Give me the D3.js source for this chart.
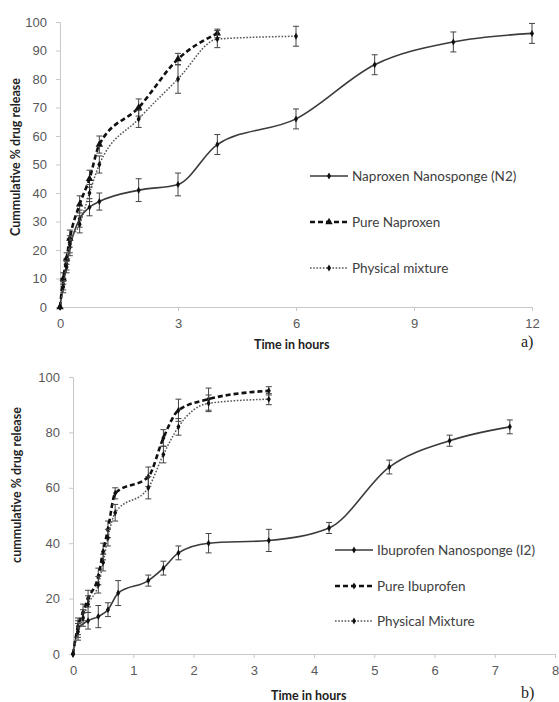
<!DOCTYPE html>
<html>
<head>
<meta charset="utf-8">
<script src="https://cdn.jsdelivr.net/npm/d3@7"></script>
<style>
  body { margin: 0; background: #fff; }
  svg { display: block; font-family: Lato, "Open Sans", sans-serif; }
  .tick text { fill: #595959; font-size: 13px; }
  .domain, .tick line { stroke: #c8c8c8; }
</style>
</head>
<body>
<div id="chart"></div>
<script>
// ---- panel a) naproxen ----
var napTimeN2 = [0, 0.083, 0.167, 0.25, 0.5, 0.75, 1, 2, 3, 4, 6, 8, 10, 12];
var napN2 = [0, 8, 15, 21, 31, 35, 37, 41, 43, 57, 66, 85, 93, 96];
var napN2Err = [0, 2, 2, 3, 3, 3, 3, 4, 4, 3.5, 3.5, 3.5, 3.5, 3.5];

var napTimePure = [0, 0.083, 0.167, 0.25, 0.5, 0.75, 1, 2, 3, 4];
var napPure = [0, 10, 17, 24, 36, 45, 57, 70, 87, 96];
var napPureErr = [0, 2, 2, 3, 3, 3, 3, 3, 2, 1.5];

var napTimeMix = [0, 0.083, 0.167, 0.25, 0.5, 0.75, 1, 2, 3, 4, 6];
var napMix = [0, 7, 14, 22, 29, 40, 50, 66, 80, 94, 95];
var napMixErr = [0, 2, 2, 3, 3, 3, 3, 3, 5, 3, 3.5];

var napXTicks = [0, 3, 6, 9, 12];
var napYTicks = [0, 10, 20, 30, 40, 50, 60, 70, 80, 90, 100];
var napNames = ["Naproxen Nanosponge (N2)", "Pure Naproxen", "Physical mixture"];

// ---- panel b) ibuprofen ----
var ibuTimeI2 = [0, 0.083, 0.25, 0.42, 0.58, 0.75, 1.25, 1.5, 1.75, 2.25, 3.25, 4.25, 5.25, 6.25, 7.25];
var ibuI2 = [0, 9, 12, 13.5, 16, 22, 26.5, 31, 36.5, 40, 41, 45.5, 67.5, 77, 82];
var ibuI2Err = [0, 3, 3, 4, 2.5, 4.5, 2, 2.5, 2.5, 3.5, 4, 2, 2.5, 2, 2.5];

var ibuTimeFast = [0, 0.083, 0.167, 0.25, 0.42, 0.5, 0.58, 0.7, 1.25, 1.5, 1.75, 2.25, 3.25];
var ibuPure = [0, 10, 15, 20, 28, 37, 45, 58, 64, 78, 88, 92, 95];
var ibuPureErr = [0, 3, 3, 3, 3, 3, 3, 2, 3.5, 3, 4, 4, 1.5];
var ibuMix = [0, 8, 13, 18, 25, 33, 42, 51, 60, 72, 82, 90.5, 92];
var ibuMixErr = [0, 3, 3, 3, 3, 3, 3, 3, 4, 3, 3, 3, 2];

var ibuXTicks = [0, 1, 2, 3, 4, 5, 6, 7, 8];
var ibuYTicks = [0, 20, 40, 60, 80, 100];
var ibuNames = ["Ibuprofen Nanosponge (I2)", "Pure Ibuprofen", "Physical Mixture"];

var W = 559, H = 702;
var svg = d3.select("#chart").append("svg").attr("width", W).attr("height", H);

// line styles for solid / dashed / dotted series
var styles = [
  {stroke: "#3a3a3a", width: 1.6, dash: null},
  {stroke: "#111", width: 2.6, dash: "5,3"},
  {stroke: "#555", width: 1.5, dash: "1.6,1.6"}
];

function zip(t, v, e) {
  return t.map(function(d, i) { return {t: d, v: v[i], e: e[i]}; });
}

function marker(m) {
  return d3.symbol().type(m == "tri" ? d3.symbolTriangle : d3.symbolDiamond).size(m == "tri" ? 24 : 14)();
}

function drawPanel(p) {
  var g = svg.append("g");
  var x = d3.scaleLinear().domain(p.xDomain).range([p.left, p.right]);
  var y = d3.scaleLinear().domain([0, 100]).range([p.bottom, p.top]);

  g.append("g").attr("transform", "translate(0," + p.bottom + ")")
    .call(d3.axisBottom(x).tickValues(p.xTicks).tickSize(4).tickPadding(8).tickFormat(d3.format("d")));
  g.append("g").attr("transform", "translate(" + p.left + ",0)")
    .call(d3.axisLeft(y).tickValues(p.yTicks).tickSize(4).tickPadding(9));

  var line = d3.line()
    .x(function(d) { return x(d.t); })
    .y(function(d) { return y(d.v); })
    .curve(d3.curveMonotoneX);

  p.series.forEach(function(s, k) {
    var st = styles[k];
    // error bars
    var eb = g.append("g").attr("stroke", "#444").attr("stroke-width", 1);
    s.filter(function(d) { return d.e > 0; }).forEach(function(d) {
      eb.append("line").attr("x1", x(d.t)).attr("x2", x(d.t)).attr("y1", y(d.v - d.e)).attr("y2", y(d.v + d.e));
      eb.append("line").attr("x1", x(d.t) - 3).attr("x2", x(d.t) + 3).attr("y1", y(d.v - d.e)).attr("y2", y(d.v - d.e));
      eb.append("line").attr("x1", x(d.t) - 3).attr("x2", x(d.t) + 3).attr("y1", y(d.v + d.e)).attr("y2", y(d.v + d.e));
    });
    g.append("path").attr("d", line(s)).attr("fill", "none")
      .attr("stroke", st.stroke).attr("stroke-width", st.width)
      .attr("stroke-dasharray", st.dash);
    g.selectAll(null).data(s).join("path")
      .attr("transform", function(d) { return "translate(" + x(d.t) + "," + y(d.v) + ")"; })
      .attr("d", marker(p.markers[k]))
      .attr("fill", "#111");
  });

  // legend
  var lg = g.append("g");
  p.names.forEach(function(n, k) {
    var st = styles[k];
    var ly = p.legY[k];
    lg.append("line").attr("x1", p.legX).attr("x2", p.legX + 38).attr("y1", ly).attr("y2", ly)
      .attr("stroke", st.stroke).attr("stroke-width", st.width).attr("stroke-dasharray", st.dash);
    lg.append("path").attr("transform", "translate(" + (p.legX + 19) + "," + ly + ")")
      .attr("d", marker(p.markers[k]))
      .attr("fill", "#111");
    lg.append("text").attr("x", p.legX + 42).attr("y", ly).attr("dy", "0.35em")
      .attr("fill", "#404040").style("font-size", "13.5px").text(n);
  });

  g.append("text").attr("x", p.xTitle[0]).attr("y", p.xTitle[1])
    .attr("font-weight", "bold").style("font-size", "12.5px").attr("fill", "#222").text("Time in hours");
  g.append("text").attr("transform", "translate(" + p.yTitle[0] + "," + p.yTitle[1] + ") rotate(-90)")
    .attr("text-anchor", "middle").attr("font-weight", "bold").style("font-size", "12.5px").attr("fill", "#222")
    .text(p.yLabel);
  g.append("text").attr("x", p.tag[0]).attr("y", p.tag[1]).style("font-size", "16px")
    .attr("font-family", "Liberation Serif, serif").attr("fill", "#222").text(p.tagText);
}

drawPanel({
  xDomain: [0, 12], left: 60, right: 532, top: 22, bottom: 307,
  xTicks: napXTicks, yTicks: napYTicks, names: napNames, markers: ["dot", "tri", "dot"],
  series: [zip(napTimeN2, napN2, napN2Err), zip(napTimePure, napPure, napPureErr), zip(napTimeMix, napMix, napMixErr)],
  legX: 310, legY: [176, 222, 268],
  xTitle: [254, 349], yTitle: [20, 157], yLabel: "Cummulative % drug release",
  tag: [521, 347], tagText: "a)"
});

drawPanel({
  xDomain: [0, 8], left: 73, right: 555, top: 377, bottom: 654,
  xTicks: ibuXTicks, yTicks: ibuYTicks, names: ibuNames, markers: ["dot", "dot", "dot"],
  series: [zip(ibuTimeI2, ibuI2, ibuI2Err), zip(ibuTimeFast, ibuPure, ibuPureErr), zip(ibuTimeFast, ibuMix, ibuMixErr)],
  legX: 335, legY: [550, 586, 621],
  xTitle: [271, 700], yTitle: [21, 485], yLabel: "cummulative % drug release",
  tag: [521, 698], tagText: "b)"
});
</script>
</body>
</html>
